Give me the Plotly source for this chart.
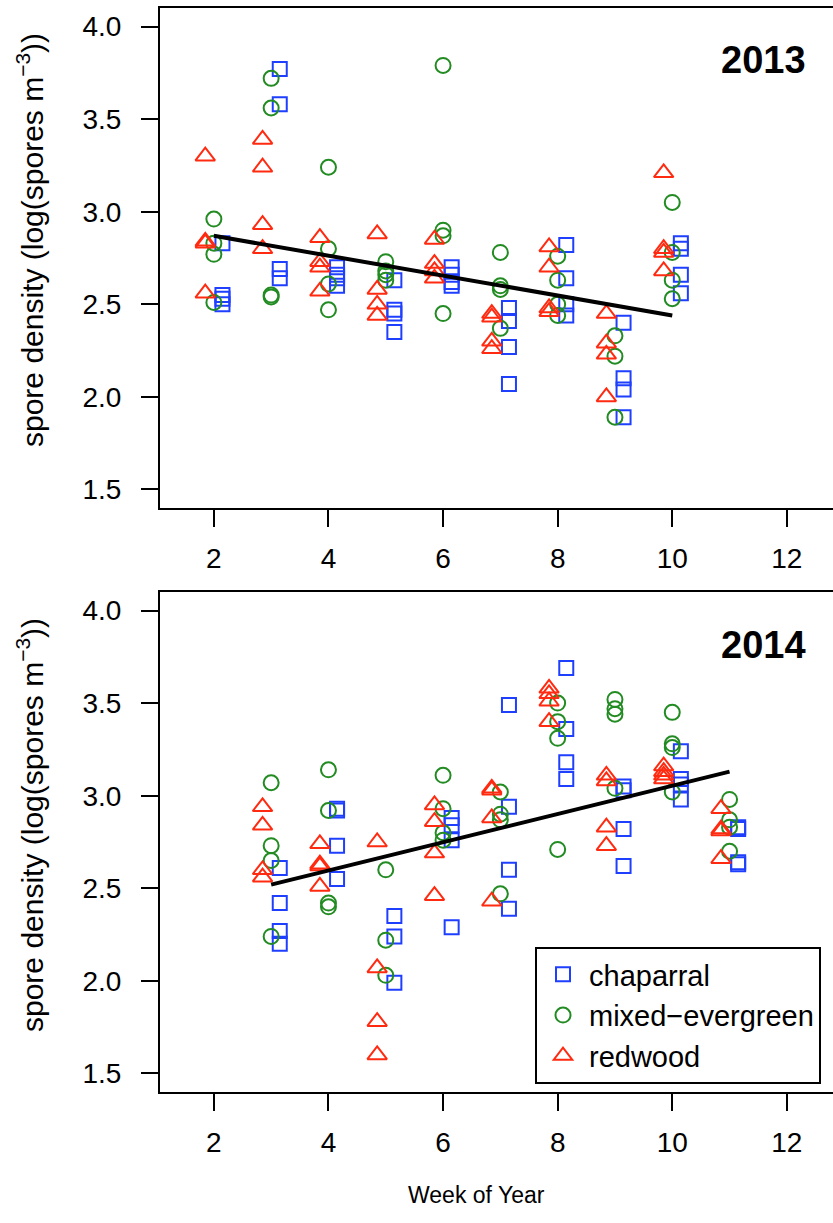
import plotly.graph_objects as go

# Sampling weeks per year
weeks_2013 = [2, 3, 4, 5, 6, 7, 8, 9, 10]
weeks_2014 = [3, 4, 5, 6, 7, 8, 9, 10, 11]

# Spore density, log(spores m^-3), one list of samples per week
chaparral_2013 = [
    [2.83, 2.55, 2.53, 2.50], [3.77, 3.58, 2.69, 2.64], [2.70, 2.66, 2.64, 2.60],
    [2.63, 2.47, 2.45, 2.35], [2.70, 2.66, 2.62, 2.60], [2.48, 2.41, 2.27, 2.07],
    [2.82, 2.64, 2.50, 2.44], [2.40, 2.10, 2.04, 1.89], [2.83, 2.80, 2.66, 2.56],
]
mixed_2013 = [
    [2.96, 2.83, 2.77, 2.51], [3.72, 3.56, 2.55, 2.54], [3.24, 2.80, 2.61, 2.47],
    [2.73, 2.68, 2.66, 2.63], [3.79, 2.90, 2.87, 2.45], [2.78, 2.60, 2.58, 2.37],
    [2.76, 2.63, 2.50, 2.44], [2.33, 2.22, 1.89], [3.05, 2.78, 2.63, 2.53],
]
redwood_2013 = [
    [3.30, 2.84, 2.83, 2.56], [3.39, 3.24, 2.93, 2.80], [2.86, 2.73, 2.70, 2.57],
    [2.88, 2.58, 2.50, 2.44], [2.85, 2.72, 2.68, 2.64], [2.45, 2.43, 2.30, 2.26],
    [2.81, 2.70, 2.48, 2.46], [2.45, 2.29, 2.23, 2.00], [3.21, 2.80, 2.78, 2.68],
]

chaparral_2014 = [
    [2.61, 2.42, 2.27, 2.20], [2.93, 2.92, 2.73, 2.55], [2.35, 2.24, 1.99],
    [2.88, 2.84, 2.76, 2.29], [3.49, 2.94, 2.60, 2.39], [3.69, 3.36, 3.18, 3.09],
    [3.05, 3.03, 2.82, 2.62], [3.24, 3.09, 3.06, 2.98], [2.83, 2.82, 2.64, 2.63],
]
mixed_2014 = [
    [3.07, 2.73, 2.65, 2.24], [3.14, 2.92, 2.42, 2.40], [2.60, 2.22, 2.03],
    [3.11, 2.93, 2.80, 2.76], [3.02, 2.90, 2.87, 2.47], [3.50, 3.40, 3.31, 2.71],
    [3.52, 3.47, 3.44, 3.04], [3.45, 3.28, 3.26, 3.02], [2.98, 2.87, 2.83, 2.70],
]
redwood_2014 = [
    [2.94, 2.84, 2.60, 2.56], [2.74, 2.63, 2.62, 2.51], [2.75, 2.07, 1.78, 1.60],
    [2.95, 2.86, 2.69, 2.46], [3.04, 3.03, 2.88, 2.43], [3.58, 3.55, 3.51, 3.40],
    [3.11, 3.08, 2.83, 2.73], [3.16, 3.13, 3.11, 3.09], [2.93, 2.82, 2.81, 2.66],
]

# Fitted linear trend (end points) per year
trend_weeks_2013 = [2, 10]
trend_vals_2013 = [2.87, 2.44]
trend_weeks_2014 = [3, 11]
trend_vals_2014 = [2.52, 3.13]

years = ["2013", "2014"]
habitats = ["chaparral", "mixed\u2212evergreen", "redwood"]

W, H = 833, 1223
FONT = "Liberation Sans, Arial, Helvetica, sans-serif"
TICK_FS = 28

# species style: (colour, symbol, size, horizontal dodge in weeks)
styles = {
    "chaparral": ("#1F3FFF", "square-open", 14, 0.15),
    "mixed\u2212evergreen": ("#228B22", "circle-open", 15, 0.0),
    "redwood": ("#FF2A10", "triangle-up-open", 17, -0.15),
}

panels = [
    (weeks_2013, [chaparral_2013, mixed_2013, redwood_2013], trend_weeks_2013, trend_vals_2013),
    (weeks_2014, [chaparral_2014, mixed_2014, redwood_2014], trend_weeks_2014, trend_vals_2014),
]

fig = go.Figure()


def py(px):
    """pixel row -> paper fraction"""
    return 1 - px / H


def px_x(px):
    """pixel column -> paper fraction of plot width"""
    return (px - 160) / (W - 160)


domains = [[py(508), py(8)], [py(1092), py(592)]]

for i, (weeks, groups, tw, tv) in enumerate(panels):
    xa = "x" if i == 0 else "x2"
    ya = "y" if i == 0 else "y2"
    for name, series in zip(habitats, groups):
        col, sym, size, dodge = styles[name]
        xs, ys = [], []
        for wk, vals in zip(weeks, series):
            for v in vals:
                xs.append(wk + dodge)
                ys.append(v)
        fig.add_trace(go.Scatter(
            x=xs, y=ys, mode="markers", name=name,
            xaxis=xa, yaxis=ya, showlegend=(i == 1),
            marker=dict(symbol=sym, size=size, color=col, line=dict(width=2, color=col)),
        ))
    fig.add_trace(go.Scatter(
        x=tw, y=tv, mode="lines", xaxis=xa, yaxis=ya, showlegend=False,
        line=dict(color="black", width=4),
    ))

xr = [1.06, 1.06 + (W - 160) / 57.3]
axis_common = dict(
    showline=True, linecolor="black", linewidth=2,
    ticks="outside", ticklen=17, tickwidth=2, tickcolor="black",
    showgrid=False, zeroline=False,
    tickfont=dict(family=FONT, size=TICK_FS, color="black"),
)

fig.update_layout(
    width=W, height=H,
    margin=dict(l=160, r=0, t=0, b=0),
    paper_bgcolor="white", plot_bgcolor="white",
    font=dict(family=FONT, size=TICK_FS, color="black"),
    xaxis=dict(domain=[0, 1], range=xr, anchor="y", tickvals=[2, 4, 6, 8, 10, 12],
               mirror=True, ticklabelstandoff=7, **axis_common),
    yaxis=dict(domain=domains[0], range=[1.4, 4.1], anchor="x",
               tickvals=[1.5, 2.0, 2.5, 3.0, 3.5, 4.0], tickformat=".1f",
               ticklabelstandoff=14, **axis_common),
    xaxis2=dict(domain=[0, 1], range=xr, anchor="y2", tickvals=[2, 4, 6, 8, 10, 12],
                mirror=True, ticklabelstandoff=7, **axis_common),
    yaxis2=dict(domain=domains[1], range=[1.4, 4.1], anchor="x2",
                tickvals=[1.5, 2.0, 2.5, 3.0, 3.5, 4.0], tickformat=".1f",
                ticklabelstandoff=14, **axis_common),
    legend=dict(
        x=px_x(535), y=py(947), xanchor="left", yanchor="top",
        bordercolor="black", borderwidth=2, bgcolor="white",
        font=dict(family=FONT, size=29, color="black"),
        itemsizing="trace", itemwidth=42, tracegroupgap=0,
    ),
    showlegend=True,
)

ann = []
for yr, (cx, cy) in zip(years, [(763, 60), (763, 645)]):
    ann.append(dict(text="<b>%s</b>" % yr, x=px_x(cx), y=py(cy), xref="paper", yref="paper",
                    showarrow=False, font=dict(family=FONT, size=38, color="black"),
                    xanchor="center", yanchor="middle"))
for cy in [240, 825]:
    ann.append(dict(text="spore density (log(spores m<sup>\u22123</sup>))",
                    x=px_x(30), y=py(cy), xref="paper", yref="paper", textangle=-90,
                    showarrow=False, font=dict(family=FONT, size=30, color="black"),
                    xanchor="center", yanchor="middle"))
ann.append(dict(text="Week of Year", x=px_x(476), y=py(1195), xref="paper", yref="paper",
                showarrow=False, font=dict(family=FONT, size=23, color="black"),
                xanchor="center", yanchor="middle"))
fig.update_layout(annotations=ann)

fig.write_html("out.html")
